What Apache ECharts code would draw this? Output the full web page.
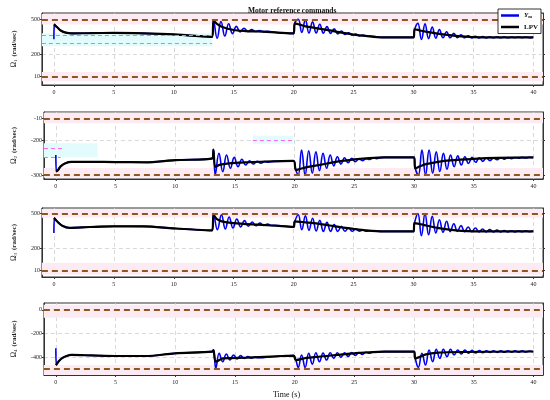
<!DOCTYPE html>
<html><head><meta charset="utf-8">
<script src="https://cdn.jsdelivr.net/npm/echarts@6/dist/echarts.min.js"></script>
<style>html,body{margin:0;padding:0;background:#fff}#c{width:550px;height:400px}</style>
</head><body><div id="c"></div>
<script>
// ---------- data ----------
const timeTicks = [0, 5, 10, 15, 20, 25, 30, 35, 40];
const yTickVals = [[500, 200, 10], [-10, -200, -500], [500, 200, 10], [0, -200, -400]];
const yTickText = [['500', '200', '10'], ['-10', '-200', '-300'], ['500', '200', '10'], ['0', '-200', '-400']];
const limitVals = [[500, 10], [-10, -500], [500, 10], [0, -500]];
const seriesNames = ['Ym', 'LPV'];
const axisNames = ['1', '2', '3', '4'];

const lpv1 = [[0,457],[0.3,430],[0.6,402],[1.0,386],[1.5,380],[3,382],[5,384],[7.5,380],[10,371],[13.2,350],[13.32,488],[13.6,462],[14,437],[15,409],[16,400],[17,396],[18.5,388],[20,380],[20.1,466],[20.5,455],[21,440],[22,423],[23,405],[24,386],[25,370],[26,358],[27.4,346],[30,346],[30.1,415],[30.5,406],[31,395],[32,378],[33,365],[34,355],[35,348],[37,346],[40,346]];
const ym1 = [[0,330],[0.05,457],[0.3,430],[0.6,402],[1.0,386],[1.5,380],[3,382],[5,384],[7.5,380],[10,371],[13.2,350],
 [13.32,488],[13.62,338],[13.94,482],[14.26,357],[14.58,462],[14.9,378],[15.22,440],[15.54,392],[15.86,424],[16.18,396],[16.5,412],[16.82,396],[17.14,404],[17.46,395],[17.8,398],[18.5,388],[20,380],
 [20.1,470],[20.38,500],[20.68,388],[20.98,495],[21.28,383],[21.58,478],[21.88,383],[22.18,458],[22.48,382],[22.78,438],[23.08,380],[23.38,418],[23.68,375],[23.98,400],[24.28,370],[24.58,385],[24.88,365],[25.18,374],[25.48,359],[25.78,365],[26.08,355],[26.4,357],[27.4,346],[30,346],
 [30.1,415],[30.36,465],[30.66,328],[30.96,461],[31.26,335],[31.56,433],[31.86,338],[32.16,412],[32.46,342],[32.76,394],[33.06,342],[33.36,380],[33.66,342],[33.96,368],[34.26,342],[34.56,360],[34.86,341],[35.16,355],[35.46,341],[35.76,352],[36.06,341],[36.36,350],[36.66,342],[36.96,350],[37.26,342],[37.56,350],[37.86,342],[38.16,349],[38.46,343],[38.76,349],[39.06,343],[39.36,349],[39.66,343],[39.96,348]];

const lpv2 = [[0,-470],[0.15,-462],[0.4,-425],[0.8,-398],[1.3,-386],[3,-386],[5,-388],[7.5,-390],[10,-371],[13.1,-356],[13.2,-280],[13.35,-430],[13.7,-412],[14.5,-400],[16,-390],[17.5,-383],[19.9,-378],[20.1,-457],[20.5,-446],[21,-432],[22,-414],[23,-395],[24,-378],[25,-364],[26,-355],[27.5,-347],[30,-347],[30.1,-442],[30.5,-425],[31,-406],[32,-386],[33,-373],[35,-360],[37,-352],[40,-347]];
const ym2 = [[0,-327],[0.05,-470],[0.15,-462],[0.4,-425],[0.8,-398],[1.3,-386],[3,-386],[5,-388],[7.5,-390],[10,-371],[13.1,-356],[13.2,-280],
 [13.35,-500],[13.66,-312],[13.98,-471],[14.3,-327],[14.62,-442],[14.94,-347],[15.26,-428],[15.58,-364],[15.9,-414],[16.22,-376],[16.54,-405],[16.86,-382],[17.18,-398],[17.5,-384],[17.8,-390],[18.2,-382],[19.9,-378],
 [20.1,-457],[20.3,-500],[20.58,-284],[20.88,-500],[21.18,-290],[21.48,-485],[21.78,-299],[22.08,-463],[22.38,-312],[22.68,-442],[22.98,-327],[23.28,-422],[23.58,-342],[23.88,-405],[24.18,-350],[24.48,-394],[24.78,-356],[25.08,-385],[25.38,-360],[25.68,-376],[25.98,-358],[26.28,-366],[26.58,-352],[26.88,-358],[27.2,-349],[27.5,-347],[30,-347],
 [30.1,-442],[30.36,-500],[30.66,-284],[30.96,-500],[31.26,-284],[31.56,-485],[31.86,-299],[32.16,-470],[32.46,-312],[32.76,-450],[33.06,-327],[33.36,-428],[33.66,-334],[33.96,-414],[34.26,-342],[34.56,-400],[34.86,-347],[35.16,-390],[35.46,-350],[35.76,-382],[36.06,-352],[36.36,-375],[36.66,-352],[36.96,-368],[37.26,-350],[37.56,-362],[37.86,-349],[38.16,-358],[38.46,-348],[38.76,-355],[39.06,-347],[39.36,-353],[39.66,-346],[39.96,-350]];

const lpv3 = [[0,463],[0.3,430],[0.7,396],[1.3,378],[3,385],[5,391],[7.5,390],[10,373],[13.2,355],[13.32,491],[13.6,452],[14,434],[15,419],[17,405],[19.3,391],[20,386],[20.1,434],[21,425],[22,414],[23,398],[24,382],[25,368],[26,356],[27.5,347],[30,347],[30.08,419],[30.5,411],[31,399],[32,378],[33,362],[34,351],[35,347],[40,347]];
const ym3 = [[0,333],[0.05,463],[0.3,430],[0.7,396],[1.3,378],[3,385],[5,391],[7.5,390],[10,373],[13.2,355],
 [13.32,500],[13.64,362],[13.98,491],[14.3,368],[14.62,471],[14.94,376],[15.26,454],[15.58,385],[15.9,440],[16.22,391],[16.54,428],[16.86,396],[17.18,418],[17.5,398],[17.82,410],[18.14,398],[18.5,400],[19.3,391],[20,386],
 [20.1,434],[20.38,491],[20.68,362],[20.98,481],[21.28,356],[21.58,461],[21.88,350],[22.18,442],[22.48,347],[22.78,425],[23.08,347],[23.38,405],[23.68,347],[23.98,391],[24.28,348],[24.58,379],[24.88,348],[25.18,368],[25.48,349],[25.78,360],[26.08,348],[26.4,352],[27.5,347],[30,347],
 [30.08,419],[30.36,500],[30.66,310],[30.96,500],[31.26,318],[31.56,477],[31.86,333],[32.16,448],[32.46,339],[32.76,434],[33.06,345],[33.36,413],[33.66,347],[33.96,397],[34.26,345],[34.56,385],[34.86,344],[35.16,376],[35.46,343],[35.76,368],[36.06,342],[36.36,362],[36.66,342],[36.96,358],[37.26,342],[37.56,355],[37.86,343],[38.16,353],[38.46,343],[38.76,352],[39.06,344],[39.36,351],[39.66,344],[39.96,350]];

const lpv4 = [[0,-466],[0.2,-440],[0.5,-410],[0.9,-390],[1.3,-381],[3,-385],[5,-390],[7.5,-390],[10,-367],[13.1,-353],[13.2,-340],[13.4,-438],[14,-410],[16,-404],[19,-390],[19.9,-386],[20.1,-424],[21,-405],[22,-396],[25,-367],[27.5,-353],[30,-353],[30.1,-410],[31,-376],[32,-362],[34,-356],[40,-352]];
const ym4 = [[0,-325],[0.05,-466],[0.2,-440],[0.5,-410],[0.9,-390],[1.3,-381],[3,-385],[5,-390],[7.5,-390],[10,-367],[13.1,-353],[13.2,-340],
 [13.4,-494],[13.68,-367],[13.98,-438],[14.28,-373],[14.58,-424],[14.88,-381],[15.18,-415],[15.48,-387],[15.78,-410],[16.08,-394],[16.38,-408],[16.68,-398],[17.0,-405],[17.5,-402],[19,-390],[19.9,-386],
 [20.1,-424],[20.3,-486],[20.58,-381],[20.88,-486],[21.18,-367],[21.48,-458],[21.78,-362],[22.08,-438],[22.38,-365],[22.68,-424],[22.98,-363],[23.28,-410],[23.58,-362],[23.88,-401],[24.18,-362],[24.48,-393],[24.78,-361],[25.08,-385],[25.38,-360],[25.68,-376],[25.98,-358],[26.28,-366],[26.6,-356],[27.5,-353],[30,-353],
 [30.1,-410],[30.36,-486],[30.66,-367],[30.96,-466],[31.26,-339],[31.56,-438],[31.86,-333],[32.16,-410],[32.46,-333],[32.76,-396],[33.06,-333],[33.36,-381],[33.66,-339],[33.96,-373],[34.26,-340],[34.56,-367],[34.86,-342],[35.16,-365],[35.46,-344],[35.76,-362],[36.06,-345],[36.36,-360],[36.66,-345],[36.96,-359],[37.26,-346],[37.56,-358],[37.86,-346],[38.16,-357],[38.46,-347],[38.76,-357],[39.06,-347],[39.36,-356],[39.66,-348],[39.96,-355]];

const ymAll = [ym1, ym2, ym3, ym4];
const lpvAll = [lpv1, lpv2, lpv3, lpv4];

// ---------- layout / style ----------
const SERIF = "'Liberation Serif','DejaVu Serif',serif";
const grids = [
  {left: 22, right: 7, top: 13, height: 72},
  {left: 22, right: 7, top: 112, height: 67},
  {left: 22, right: 7, top: 208, height: 69},
  {left: 22, right: 7, top: 303, height: 72}
];
const yRanges = [[-61, 554], [-535, 47], [-47, 549], [-550, 57]];
const pinkBands = [
  [[455, 545], [-30, 50]],
  [[-50, 40], [-525, -440]],
  [[465, 540], [-27, 76]],
  [[-68, 42], [-550, -466]]
];
const overlays = [
  {areas: [[-1, 270, 13.2, 380]], lines: [[-1, 366, 13.2], [-1, 297, 13.2]]},
  {areas: [[-1, -225, 3.5, -345], [16.5, -160, 19.9, -228]], lines: [[-1, -269, 0.6], [-1, -350, 0.4], [16.5, -198, 19.9]]},
  {areas: [], lines: []},
  {areas: [], lines: []}
];

const xAxes = [], yAxes = [], series = [];
for (let i = 0; i < 4; i++) {
  xAxes.push({
    gridIndex: i, type: 'value', min: -1, max: 40.8,
    axisLine: {show: true, onZero: false, lineStyle: {color: '#333', width: 1}},
    axisTick: {show: true, customValues: timeTicks, length: 2, lineStyle: {color: '#333'}},
    axisLabel: {customValues: timeTicks, fontSize: 6, fontFamily: SERIF, color: '#222', margin: 4},
    splitLine: {show: true, lineStyle: {color: '#cfcfcf', type: [4, 3], width: 0.8}}
  });
  const tv = yTickVals[i], tt = yTickText[i];
  yAxes.push({
    gridIndex: i, type: 'value', position: 'left', min: yRanges[i][0], max: yRanges[i][1],
    name: '{o|Ω}{s|' + axisNames[i] + '} {b|(rad/sec)}',
    nameLocation: 'middle', nameGap: 13, nameRotate: 90,
    nameTextStyle: {
      color: '#222', fontFamily: SERIF,
      rich: {
        o: {fontSize: 7.5, fontFamily: SERIF, color: '#222'},
        s: {fontSize: 5, fontFamily: SERIF, color: '#222', padding: [3, 0, 0, 0]},
        b: {fontSize: 7, fontWeight: 'bold', fontFamily: SERIF, color: '#222'}
      }
    },
    axisLine: {show: true, onZero: false, lineStyle: {color: '#333', width: 1}},
    axisTick: {show: true, customValues: tv, length: 2, lineStyle: {color: '#333'}},
    axisLabel: {
      customValues: tv, fontSize: 6, fontFamily: SERIF, color: '#222', margin: 2,
      formatter: v => { const k = tv.indexOf(v); return k >= 0 ? tt[k] : ''; }
    },
    splitLine: {show: true, lineStyle: {color: '#cfcfcf', type: [4, 3], width: 0.8}}
  });
  yAxes.push({
    gridIndex: i, type: 'value', position: 'right', min: yRanges[i][0], max: yRanges[i][1],
    axisLine: {show: true, onZero: false, lineStyle: {color: '#333', width: 1}},
    axisTick: {show: true, customValues: tv, length: 2, lineStyle: {color: '#333'}},
    axisLabel: {show: false}, splitLine: {show: false}
  });
  const areaData = pinkBands[i].map(b => [{yAxis: b[0], itemStyle: {color: '#fdebf3'}}, {yAxis: b[1]}]);
  overlays[i].areas.forEach(a => areaData.push([{coord: [a[0], a[1]], itemStyle: {color: '#e2fbfc'}}, {coord: [a[2], a[3]]}]));
  const lineData = limitVals[i].map(v => ({yAxis: v}));
  overlays[i].lines.forEach(l => lineData.push([{coord: [l[0], l[1]], lineStyle: {color: '#ff66ee', type: [4, 3], width: 1.2}}, {coord: [l[2], l[1]]}]));
  series.push({
    type: 'line', xAxisIndex: i, yAxisIndex: 2 * i, data: [], silent: true, z: 1,
    markArea: {silent: true, data: areaData},
    markLine: {
      silent: true, symbol: ['none', 'none'], label: {show: false},
      lineStyle: {color: '#8e5722', type: [6, 4], width: 2.2},
      emphasis: {disabled: true},
      data: lineData
    }
  });
  series.push({
    name: seriesNames[0], type: 'line', xAxisIndex: i, yAxisIndex: 2 * i, data: ymAll[i],
    symbol: 'none', showSymbol: false, smooth: 0.45, z: 3,
    lineStyle: {color: '#0000f0', width: 1.6}, itemStyle: {color: '#0000f0'}
  });
  series.push({
    name: seriesNames[1], type: 'line', xAxisIndex: i, yAxisIndex: 2 * i, data: lpvAll[i],
    symbol: 'none', showSymbol: false, smooth: 0.3, z: 4,
    lineStyle: {color: '#000', width: 2.2}, itemStyle: {color: '#000'}
  });
}

const chart = echarts.init(document.getElementById('c'), null, {renderer: 'canvas'});
chart.setOption({
  animation: false,
  backgroundColor: '#fff',
  title: [
    {text: 'Motor reference commands', left: 243, top: 2,
     textStyle: {fontSize: 7.5, fontWeight: 'bold', fontFamily: SERIF, color: '#111'}},
    {text: 'Time (s)', left: 268, top: 386,
     textStyle: {fontSize: 8, fontWeight: 'normal', fontFamily: SERIF, color: '#111'}}
  ],
  legend: {
    data: seriesNames.map(n => ({name: n, icon: 'rect'})),
    orient: 'vertical', right: 9, top: 9, z: 10,
    backgroundColor: '#fff', borderColor: '#000', borderWidth: 0.8,
    padding: [3, 3, 3, 3], itemGap: 4, itemWidth: 18, itemHeight: 2.5,
    textStyle: {fontSize: 7, fontFamily: SERIF, color: '#111', fontWeight: 'bold',
      rich: {i: {fontSize: 7, fontFamily: SERIF, fontStyle: 'italic'}, s: {fontSize: 4.5, fontFamily: SERIF, padding: [3, 0, 0, 0]}}},
    formatter: n => n === 'Ym' ? '{i|Y}{s|m}' : n
  },
  grid: grids.map(g => Object.assign({show: true, borderColor: '#333', borderWidth: 1, backgroundColor: 'transparent'}, g)),
  xAxis: xAxes,
  yAxis: yAxes,
  series: series
});
</script>
</body></html>
